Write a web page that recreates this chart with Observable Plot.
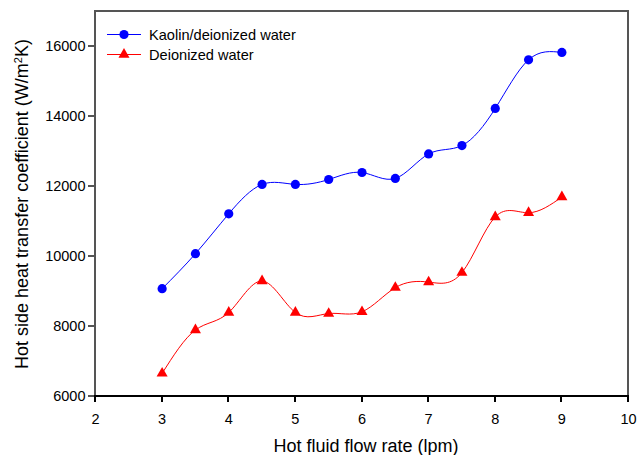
<!DOCTYPE html>
<html>
<head>
<meta charset="utf-8">
<script src="https://cdn.jsdelivr.net/npm/d3@7"></script>
<script src="https://cdn.jsdelivr.net/npm/@observablehq/plot@0.6"></script>
<style>
  html, body { margin: 0; padding: 0; background: #fff; overflow: hidden; }
  #chart svg { font-family: "Liberation Sans", Arial, sans-serif; max-width: none; }
</style>
</head>
<body>
<div id="chart"></div>
<script>
const flowRate = [3, 3.5, 4, 4.5, 5, 5.5, 6, 6.5, 7, 7.5, 8, 8.5, 9];
const kaolinWater = [9080, 10080, 11220, 12060, 12060, 12200, 12400, 12230, 12930, 13170, 14230, 15620, 15830];
const deionizedWater = [6660, 7900, 8400, 9300, 8400, 8370, 8420, 9110, 9270, 9540, 11130, 11250, 11700];
const xTicks = [2, 3, 4, 5, 6, 7, 8, 9, 10];
const yTicks = [6000, 8000, 10000, 12000, 14000, 16000];
const seriesNames = ["Kaolin/deionized water", "Deionized water"];
const seriesColors = ["#0000ff", "#ff0000"];
const seriesSymbols = ["circle", "triangle"];

const rows = [];
flowRate.forEach((f, i) => {
  rows.push({flow: f, h: kaolinWater[i], series: seriesNames[0]});
  rows.push({flow: f, h: deionizedWater[i], series: seriesNames[1]});
});
const kRows = rows.filter(d => d.series === seriesNames[0]);
const wRows = rows.filter(d => d.series === seriesNames[1]);

const X_TICK = 6, Y_TICK = 7, LW = 2;
const chart = Plot.plot({
  width: 638,
  height: 455,
  marginLeft: 95,
  marginTop: 11,
  marginRight: 10,
  marginBottom: 59,
  style: {fontFamily: "Liberation Sans, Arial, sans-serif", fontSize: "14.5px", color: "#000", background: "#fff"},
  x: {domain: [2, 10]},
  y: {domain: [6000, 17000]},
  marks: [
    Plot.axisX({ticks: xTicks, tickSize: 0, tickPadding: X_TICK + 11, tickFormat: d => String(d),
      label: "Hot fluid flow rate (lpm)", labelAnchor: "center", labelArrow: "none", labelOffset: 55}),
    Plot.axisY({ticks: yTicks, tickSize: 0, tickPadding: Y_TICK + 3, tickFormat: d => String(d),
      label: "Hot side heat transfer coefficient (W/m2K)", labelAnchor: "center", labelArrow: "none", labelOffset: 80}),
    Plot.line(wRows, {x: "flow", y: "h", stroke: seriesColors[1], strokeWidth: 1, curve: "natural"}),
    Plot.line(kRows, {x: "flow", y: "h", stroke: seriesColors[0], strokeWidth: 1, curve: "natural"}),
    Plot.dot(wRows, {x: "flow", y: "h", fill: seriesColors[1], symbol: seriesSymbols[1], r: 4.1, stroke: "none"}),
    Plot.dot(kRows, {x: "flow", y: "h", fill: seriesColors[0], symbol: seriesSymbols[0], r: 4.6, stroke: "none"})
  ]
});
document.getElementById("chart").appendChild(chart);

const svg = d3.select(chart);
const sx = chart.scale("x"), sy = chart.scale("y");
const px = v => Math.round(sx.apply(v));
const py = v => Math.round(sy.apply(v));
const x0 = px(sx.domain[0]), x1 = px(sx.domain[1]);
const y0 = py(sy.domain[0]), y1 = py(sy.domain[1]);
const h = LW / 2;

// frame, axis line and tick marks drawn as filled shapes
const rectD = (ax, ay, bx, by) => `M${ax},${ay}H${bx}V${by}H${ax}Z`;
svg.append("path").attr("fill", "#555").attr("stroke", "none").attr("fill-rule", "evenodd")
  .attr("d", rectD(x0 - h, y1 - h, x1 + h, y0 + h) + rectD(x0 + h, y1 + h, x1 - h, y0 - h));
svg.append("path").attr("fill", "#555").attr("stroke", "none")
  .attr("d", yTicks.map(t => rectD(x0 - Y_TICK, py(t) - h, x0, py(t) + h)).join(""));
svg.append("path").attr("fill", "#000").attr("stroke", "none")
  .attr("d", rectD(x0 - h, y0 - h, x1 + h, y0 + h));
svg.append("path").attr("fill", "#000").attr("stroke", "none")
  .attr("d", xTicks.map(t => rectD(px(t) - h, y0, px(t) + h, y0 + X_TICK)).join(""));

// axis label styling
svg.selectAll('g[aria-label="x-axis label"] text').style("font-size", "18px").attr("dx", 4);
const yl = svg.selectAll('g[aria-label="y-axis label"] text').style("font-size", "18px");
yl.each(function() {
  const t = d3.select(this);
  t.text(null);
  t.append("tspan").text("Hot side heat transfer coefficient (W/m");
  t.append("tspan").attr("baseline-shift", "super").style("font-size", "11px").text("2");
  t.append("tspan").text("K)");
});

// legend inside plot area
const legend = svg.append("g").attr("font-size", 14.6).attr("text-anchor", "start");
seriesNames.forEach((name, i) => {
  const y = 34.5 + i * 20;
  const g = legend.append("g");
  g.append("path").attr("d", `M107,${y}H141`).attr("fill", "none")
    .attr("stroke", seriesColors[i]).attr("stroke-width", 1);
  const sym = d3.symbol(i === 0 ? d3.symbolCircle : d3.symbolTriangle, i === 0 ? Math.PI * 4.6 * 4.6 : Math.PI * 4.1 * 4.1)();
  g.append("path").attr("d", sym).attr("transform", `translate(124,${y})`).attr("fill", seriesColors[i]);
  g.append("text").attr("x", 149).attr("y", y).attr("dy", "0.35em").attr("fill", "#000")
    .attr("text-anchor", "start").text(name);
});
</script>
</body>
</html>
